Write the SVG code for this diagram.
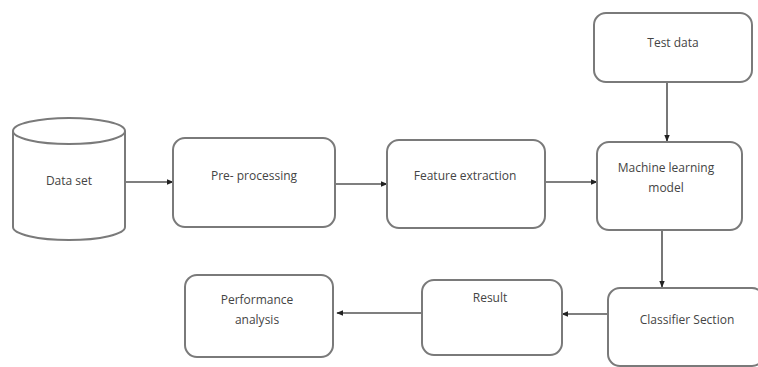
<svg xmlns="http://www.w3.org/2000/svg" width="758" height="367" viewBox="0 0 758 367">
<style>
.box{fill:#fff;stroke:#7a7a7a;stroke-width:2}
.t{font-family:"Open Sans","Liberation Sans",sans-serif;font-size:12px;fill:#444;text-anchor:middle}
.c{stroke:#555;stroke-width:1.6;fill:none;marker-end:url(#ah)}
</style>
<defs>
<marker id="ah" viewBox="0 0 10 10" refX="9" refY="5" markerWidth="7" markerHeight="7" markerUnits="userSpaceOnUse" orient="auto">
<path d="M0,1 L10,5 L0,9 z" fill="#222"/>
</marker>
</defs>
<rect width="758" height="367" fill="#fff"/>
<g id="connectors">
<line class="c" x1="125" y1="182" x2="173" y2="182"/>
<line class="c" x1="335" y1="184" x2="387" y2="184"/>
<line class="c" x1="545" y1="182" x2="597" y2="182"/>
<line class="c" x1="667" y1="82" x2="667" y2="141"/>
<line class="c" x1="662" y1="229" x2="662" y2="287"/>
<line class="c" x1="608" y1="314" x2="562" y2="314"/>
<line class="c" x1="422" y1="313" x2="337" y2="313"/>
</g>
<g id="dataset">
<path class="box" d="M13,131 L13,227 A56,13 0 0 0 125,227 L125,131 A56,13 0 0 0 13,131 A56,13 0 0 0 125,131"/>
<text class="t" x="69" y="185">Data set</text>
</g>
<g id="preprocessing">
<rect class="box" x="173" y="138" width="162" height="89" rx="12"/>
<text class="t" x="254" y="180">Pre- processing</text>
</g>
<g id="feature">
<rect class="box" x="387" y="140" width="158" height="88" rx="12"/>
<text class="t" x="465" y="180">Feature extraction</text>
</g>
<g id="ml">
<rect class="box" x="597" y="142" width="145" height="88" rx="12"/>
<text class="t" x="666" y="172">Machine learning</text>
<text class="t" x="666" y="192">model</text>
</g>
<g id="testdata">
<rect class="box" x="594" y="13" width="158" height="69" rx="12"/>
<text class="t" x="673" y="47">Test data</text>
</g>
<g id="classifier">
<rect class="box" x="608" y="288" width="156" height="78" rx="12"/>
<text class="t" x="687" y="324">Classifier Section</text>
</g>
<g id="result">
<rect class="box" x="422" y="280" width="140" height="75" rx="12"/>
<text class="t" x="490" y="302">Result</text>
</g>
<g id="performance">
<rect class="box" x="185" y="275" width="148" height="82" rx="12"/>
<text class="t" x="257" y="304">Performance</text>
<text class="t" x="257" y="324">analysis</text>
</g>
</svg>
